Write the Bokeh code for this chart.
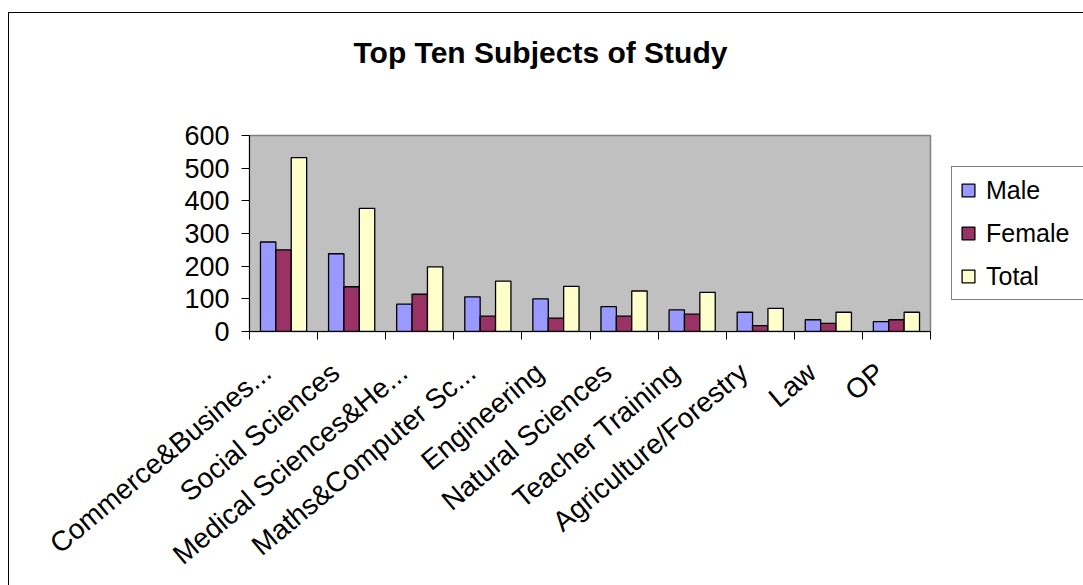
import math

from bokeh.embed import file_html
from bokeh.layouts import row
from bokeh.models import (ColumnDataSource, FixedTicker, Legend, LegendItem,
                          LinearAxis, Range1d, Title)
from bokeh.plotting import figure
from bokeh.resources import INLINE
from bokeh.transform import dodge

# Subjects (labels as they appear, truncated where the axis clips them)
categories = [
    "Commerce&Busines...",
    "Social Sciences",
    "Medical Sciences&He...",
    "Maths&Computer Sc...",
    "Engineering",
    "Natural Sciences",
    "Teacher Training",
    "Agriculture/Forestry",
    "Law",
    "OP",
]
male = [274, 238, 84, 106, 100, 76, 66, 59, 36, 30]
female = [250, 137, 114, 47, 41, 47, 53, 18, 25, 36]
total = [532, 377, 198, 154, 138, 124, 120, 71, 59, 59]

y_ticks = [0, 100, 200, 300, 400, 500, 600]
series_names = ["Male", "Female", "Total"]
series_colors = ["#9999FF", "#993366", "#FFFFCC"]

FONT = "Liberation Sans"
bar_w = 0.226

source = ColumnDataSource(dict(cat=categories, Male=male, Female=female, Total=total))

# ---------------------------------------------------------------- chart
p = figure(
    x_range=categories,
    y_range=Range1d(0, 600),
    width=951,
    height=585,
    output_backend="svg",
    toolbar_location=None,
    title_location=None,
    x_axis_location=None,
    y_axis_location=None,
    min_border_left=249,
    min_border_right=21,
    min_border_top=135,
    min_border_bottom=253,
)
p.background_fill_color = "#C0C0C0"
p.border_fill_alpha = 0
p.outline_line_color = "#808080"
p.outline_line_width = 1.5
p.xgrid.visible = False
p.ygrid.visible = False

# Chart box border: left and top edges
p.styles = {
    "background-color": "white",
    "background-image": "linear-gradient(#000, #000), linear-gradient(#000, #000)",
    "background-size": "1px 100%, 100% 1px",
    "background-position": "8px 12px, 8px 12px",
    "background-repeat": "no-repeat, no-repeat",
}

# Title, lifted well clear of the plot area by a blank second line
title = Title(
    text="Top Ten Subjects of Study\n",
    align="left",
    offset=104,
    standoff=53,
    vertical_align="bottom",
    text_font=FONT,
    text_font_size="30px",
    text_font_style="bold",
    text_line_height=1.2,
    text_color="black",
)
p.add_layout(title, "above")

# Value axis
yaxis = LinearAxis(ticker=FixedTicker(ticks=y_ticks))
yaxis.axis_line_color = "black"
yaxis.major_tick_line_color = "black"
yaxis.major_tick_in = 0
yaxis.major_tick_out = 8
yaxis.minor_tick_line_color = None
yaxis.major_label_standoff = 12
yaxis.major_label_text_font = FONT
yaxis.major_label_text_font_size = "27px"
yaxis.major_label_text_color = "black"
p.add_layout(yaxis, "left")

# Category axis: tick marks between groups, slanted labels ending just
# left of each group's centre
n = len(categories)
label_pos = [i + 0.5 - 0.24 for i in range(n)]
xaxis = LinearAxis(
    ticker=FixedTicker(ticks=label_pos, minor_ticks=list(range(n + 1))),
    major_label_overrides={pos: cat for pos, cat in zip(label_pos, categories)},
)
xaxis.axis_line_color = "black"
xaxis.major_tick_line_color = None
xaxis.major_tick_in = 0
xaxis.major_tick_out = 8
xaxis.minor_tick_line_color = "black"
xaxis.minor_tick_in = 0
xaxis.minor_tick_out = 8
xaxis.major_label_orientation = math.radians(40)
xaxis.major_label_standoff = 29
xaxis.major_label_text_font = FONT
xaxis.major_label_text_font_size = "28px"
xaxis.major_label_text_color = "black"
p.add_layout(xaxis, "below")

offsets = [-bar_w, 0.0, bar_w]
for name, color, off in zip(series_names, series_colors, offsets):
    p.vbar(
        x=dodge("cat", off, range=p.x_range),
        top=name,
        width=bar_w,
        source=source,
        fill_color=color,
        line_color="black",
        line_width=1.3,
    )

# ---------------------------------------------------------------- legend
# Side panel sharing the chart's scales; its series are hidden and only
# feed the legend swatches.
p_leg = figure(
    x_range=p.x_range,
    y_range=p.y_range,
    width=132,
    height=585,
    output_backend="svg",
    toolbar_location=None,
    x_axis_location=None,
    y_axis_location=None,
    title_location=None,
    min_border=0,
)
p_leg.xgrid.visible = False
p_leg.ygrid.visible = False
p_leg.outline_line_color = None
p_leg.background_fill_alpha = 0
p_leg.border_fill_alpha = 0
p_leg.styles = {
    "background-color": "white",
    "background-image": "linear-gradient(#000, #000)",
    "background-size": "100% 1px",
    "background-position": "0px 12px",
    "background-repeat": "no-repeat",
}

swatches = []
for name, color in zip(series_names, series_colors):
    swatches.append(
        p_leg.vbar(x="cat", top=name, width=bar_w, source=source,
                   fill_color=color, line_color="black", line_width=1.3,
                   visible=False)
    )

legend = Legend(
    items=[LegendItem(label=s, renderers=[r]) for s, r in zip(series_names, swatches)],
    location="left",
    orientation="vertical",
    border_line_color="black",
    border_line_width=1,
    background_fill_color="white",
    background_fill_alpha=1.0,
    inactive_fill_alpha=0.0,
    padding=8,
    margin=0,
    spacing=13,
    glyph_width=16,
    glyph_height=16,
    label_standoff=10,
    label_height=30,
    label_width=120,
    label_text_font=FONT,
    label_text_font_size="25px",
    label_text_color="black",
)
p_leg.add_layout(legend)

layout = row(p, p_leg, spacing=0)

open("out.html", "w").write(file_html(layout, INLINE))
